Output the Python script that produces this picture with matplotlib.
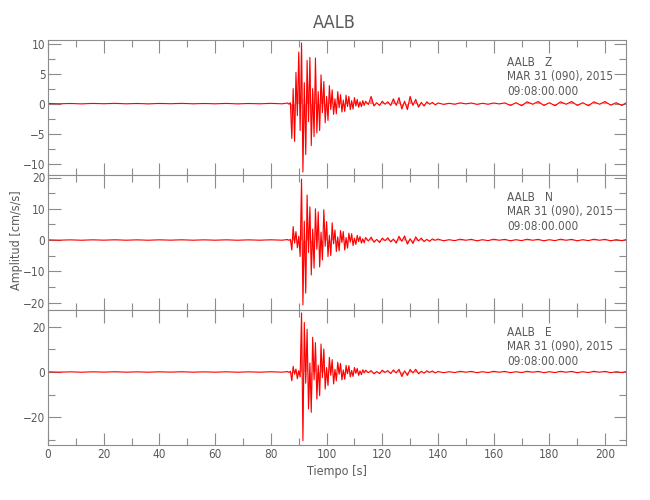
import matplotlib
matplotlib.use('Agg')
import matplotlib.pyplot as plt
import numpy as np
from matplotlib.ticker import MultipleLocator

plt.rcParams['font.family'] = ['DejaVu Sans']
plt.rcParams['font.stretch'] = 'condensed'
plt.rcParams['font.weight'] = 'light'

# sample times (s): quiet part, main arrival, coda, tail
t_pre = np.arange(0, 85, 4)        # 22 samples
t_main = np.arange(86, 114, 0.5)   # 56 samples
t_coda = np.arange(114, 141, 1)    # 27 samples
t_tail = np.arange(142, 209, 2)    # 34 samples

# componente Z
z_pre = [0.02, -0.03, 0.02, -0.04, 0.03, -0.02, 0.04, -0.03, 0.02, -0.04, 0.03,
         -0.02, 0.04, -0.03, 0.02, -0.03, 0.03, -0.04, 0.02, -0.03, 0.04, -0.03]
z_main = [0.1, -0.1, 0.15, -5.8, 2.5, -6.3, 5.2, -2.0, 8.6, -4.5,
          10.1, -11.4, 3.5, -8.5, 7.2, -3.0, 7.7, -7.0, 2.5, -5.5,
          7.6, -4.9, 2.0, -4.5, 4.8, -1.5, 3.7, -3.2, 1.2, -2.8,
          3.0, -1.0, 2.3, -1.8, 0.8, -1.7, 2.0, -0.7, 1.5, -1.4,
          0.6, -1.3, 1.4, -0.5, 1.2, -1.0, 0.5, -0.9, 1.0, -0.4,
          0.7, -0.6, 0.3, -0.5, 0.5, -0.3]
z_coda = [0.4, -0.15, 1.2, -0.4, 0.15, -0.3, 0.4, -0.1, 0.3, -0.3,
          0.8, -0.3, 1.0, -0.9, 0.4, -1.0, 1.2, -0.3, 0.7, -0.6,
          0.2, -0.4, 0.3, -0.1, 0.2, -0.2, 0.1]
z_tail = [-0.12, 0.05, -0.1, 0.12, -0.04, 0.1, -0.12, 0.05, -0.1, 0.1,
          -0.05, 0.12, -0.3, 0.15, -0.35, 0.3, -0.1, 0.35, -0.3, 0.15,
          -0.35, 0.3, -0.1, 0.35, -0.3, 0.15, -0.35, 0.3, -0.1, 0.35,
          -0.25, 0.15, -0.3, 0.25]

# componente N
n_pre = [0.05, -0.06, 0.05, -0.07, 0.06, -0.05, 0.07, -0.06, 0.05, -0.07, 0.06,
         -0.05, 0.07, -0.06, 0.05, -0.06, 0.06, -0.07, 0.05, -0.06, 0.07, -0.06]
n_main = [0.15, -0.1, 0.2, -3.2, 4.3, -1.0, 2.7, -2.5, 1.2, -5.3,
          19.5, -20.8, 6.0, -17.0, 14.4, -4.0, 10.6, -11.2, 3.5, -9.0,
          10.0, -3.0, 9.0, -8.6, 2.5, -6.4, 9.7, -2.0, 5.9, -5.3,
          1.5, -5.0, 5.5, -1.2, 3.2, -3.7, 1.0, -3.5, 3.0, -0.8,
          2.7, -3.2, 0.8, -2.6, 2.2, -0.7, 2.0, -1.8, 0.6, -1.4,
          1.5, -0.5, 1.1, -1.0, 0.4, -0.9]
n_coda = [0.8, -0.3, 0.9, -0.7, 0.2, -0.8, 0.6, -0.2, 0.7, -0.6,
          0.3, -1.0, 1.2, -0.4, 1.3, -1.3, 0.4, -1.1, 1.0, -0.3,
          0.6, -0.5, 0.2, -0.4, 0.35, -0.1, 0.3]
n_tail = [-0.25, 0.1, -0.2, 0.25, -0.08, 0.2, -0.25, 0.1, -0.2, 0.25,
          -0.08, 0.2, -0.25, 0.1, -0.2, 0.25, -0.08, 0.2, -0.25, 0.1,
          -0.2, 0.25, -0.08, 0.2, -0.25, 0.1, -0.2, 0.25, -0.08, 0.2,
          -0.25, 0.1, -0.2, 0.25]

# componente E
e_pre = [0.06, -0.08, 0.06, -0.1, 0.08, -0.06, 0.1, -0.08, 0.06, -0.09, 0.08,
         -0.06, 0.1, -0.08, 0.06, -0.09, 0.08, -0.1, 0.06, -0.08, 0.1, -0.09]
e_main = [0.2, -0.2, 0.3, -3.9, 2.5, -1.0, 1.3, -3.0, 0.6, -2.2,
          26.2, -30.5, 22.0, -5.0, 19.0, -16.4, 4.0, -17.9, 15.4, -3.5,
          13.0, -12.0, 3.0, -10.5, 12.4, -2.5, 10.2, -7.6, 2.0, -6.0,
          6.5, -1.5, 5.5, -5.3, 1.2, -3.9, 4.3, -1.0, 3.8, -3.5,
          0.9, -3.2, 2.9, -0.8, 2.8, -2.2, 0.7, -2.0, 2.0, -0.6,
          1.6, -1.5, 0.5, -1.2, 1.0, -0.4]
e_coda = [0.8, -0.3, 0.6, -0.8, 0.2, -0.7, 0.8, -0.2, 0.6, -0.7,
          0.9, -0.4, 1.2, -2.0, 0.5, -1.5, 1.1, -0.4, 1.2, -0.8,
          0.3, -0.5, 0.5, -0.2, 0.45, -0.4, 0.2]
e_tail = [-0.3, 0.12, -0.25, 0.3, -0.1, 0.25, -0.3, 0.12, -0.25, 0.3,
          -0.1, 0.25, -0.3, 0.12, -0.25, 0.3, -0.1, 0.25, -0.3, 0.12,
          -0.25, 0.3, -0.1, 0.25, -0.3, 0.12, -0.25, 0.3, -0.1, 0.25,
          -0.3, 0.12, -0.25, 0.3]

componentes = ['Z', 'N', 'E']
ylims = [(-11.9, 10.6), (-22.4, 20.8), (-32.4, 27.5)]
y_major = [5, 10, 20]
y_minor = [2.5, 5, 10]

t = np.concatenate([t_pre, t_main, t_coda, t_tail])
trazas = [z_pre + z_main + z_coda + z_tail,
          n_pre + n_main + n_coda + n_tail,
          e_pre + e_main + e_coda + e_tail]

gris = '#8c8c8c'
texto = '#5a5a5a'

fig = plt.figure(figsize=(6.5, 5), dpi=100)
bottoms = [0.65, 0.38, 0.11]

for i in range(3):
    ax = fig.add_axes([0.074, bottoms[i], 0.889, 0.27])
    ax.fill_between(t, trazas[i], 0, color='red', alpha=0.5, linewidth=0)
    ax.plot(t, trazas[i], color='red', linewidth=0.8)
    ax.set_xlim(0, 207.5)
    ax.set_ylim(*ylims[i])
    ax.xaxis.set_major_locator(MultipleLocator(20))
    ax.xaxis.set_minor_locator(MultipleLocator(10))
    ax.yaxis.set_major_locator(MultipleLocator(y_major[i]))
    ax.yaxis.set_minor_locator(MultipleLocator(y_minor[i]))
    ax.tick_params(which='both', direction='in', top=True, right=True,
                   color=gris, labelcolor=texto, labelsize=8.5, pad=2)
    ax.tick_params(which='major', length=9, width=0.8)
    ax.tick_params(which='minor', length=5, width=0.8)
    for s in ax.spines.values():
        s.set_color(gris)
        s.set_linewidth(0.8)
    if i < 2:
        ax.set_xticklabels([])
    else:
        ax.set_xlabel('Tiempo [s]', color=texto, fontsize=9, labelpad=3)

    # etiqueta de estacion
    ax.text(0.794, 0.837, 'AALB   ' + componentes[i], transform=ax.transAxes,
            va='center', ha='left', fontsize=8.5, color=texto)
    ax.text(0.794, 0.726, 'MAR 31 (090), 2015', transform=ax.transAxes,
            va='center', ha='left', fontsize=8.5, color=texto)
    ax.text(0.794, 0.622, '09:08:00.000', transform=ax.transAxes,
            va='center', ha='left', fontsize=8.5, color=texto)

fig.text(0.515, 0.955, 'AALB', ha='center', va='center', fontsize=13, color=texto)
fig.text(0.026, 0.52, 'Amplitud [cm/s/s]', rotation=90, ha='center',
         va='center', fontsize=9, color=texto)

plt.savefig('out.png', dpi=100)
